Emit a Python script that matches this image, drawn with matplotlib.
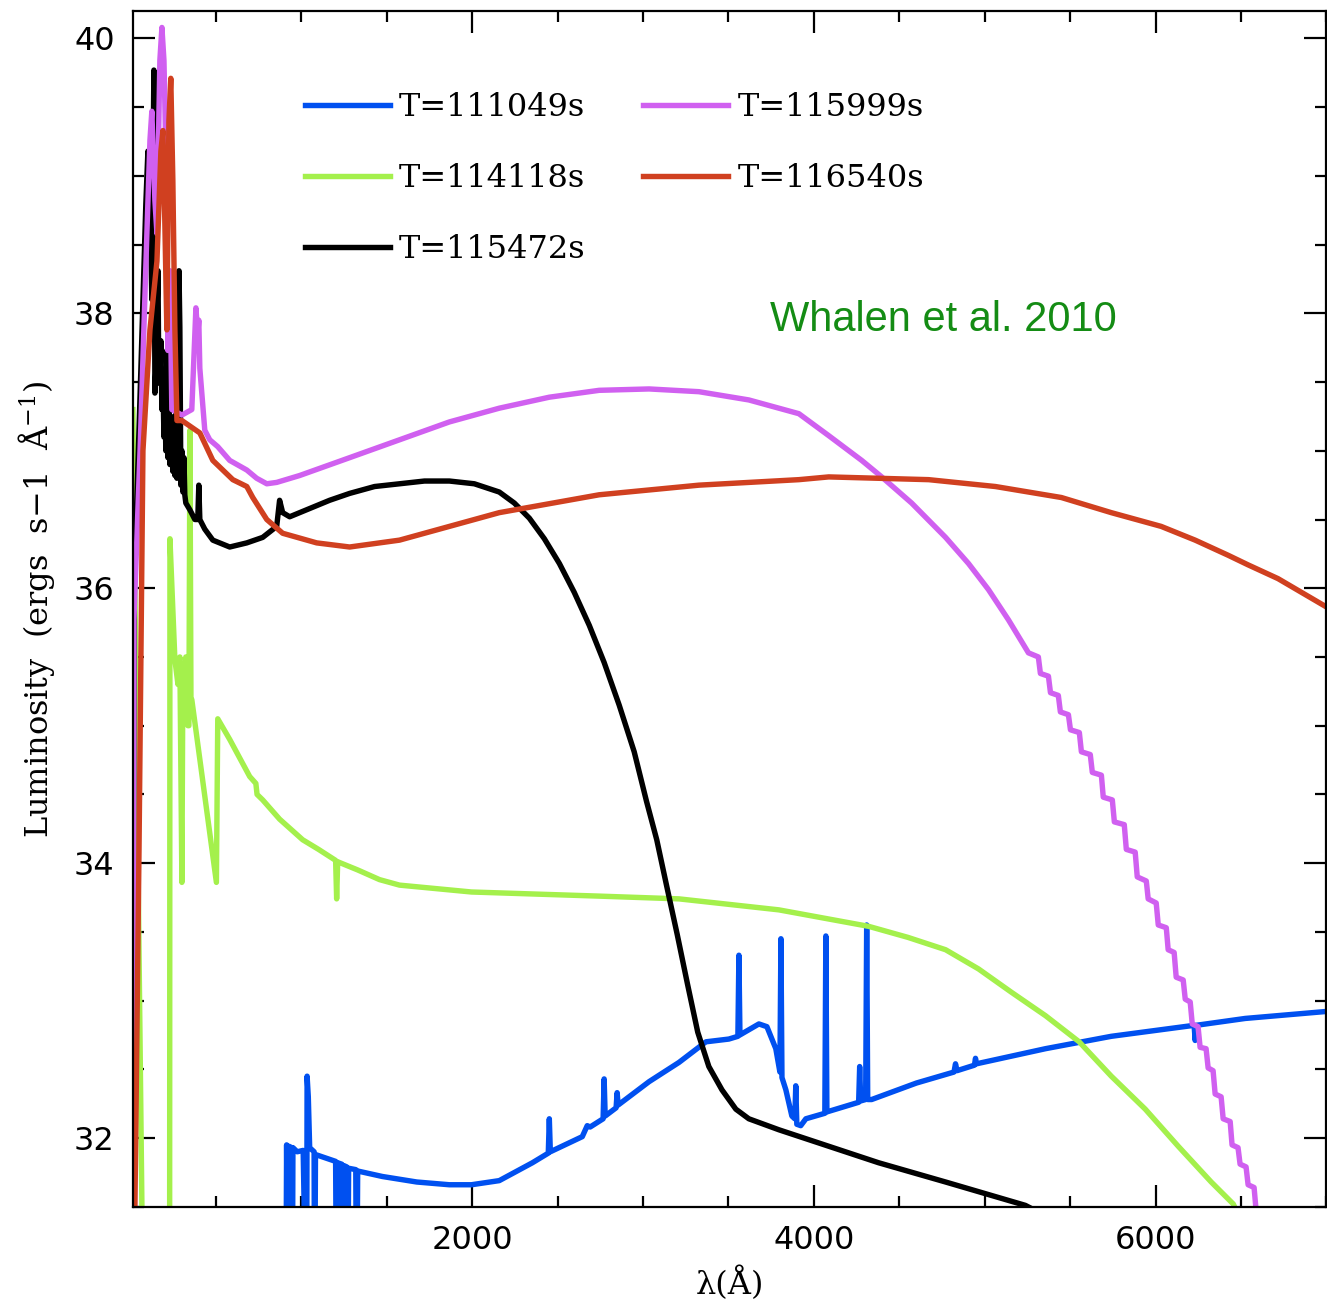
import matplotlib
matplotlib.use("Agg")
import matplotlib.pyplot as plt
from matplotlib.ticker import MultipleLocator

# (wavelength in Angstrom, log luminosity)
spec_111049 = [
    (908, 30.5), (913, 31.95), (920, 30.5), (927, 31.94), (943, 31.93), (946, 30.5), (950, 31.93),
    (975, 31.90), (1010, 31.91), (1030, 30.5), (1033, 32.45), (1040, 32.3), (1048, 31.93),
    (1074, 31.9), (1077, 30.5), (1082, 31.88), (1200, 31.83), (1206, 30.5), (1212, 31.82),
    (1235, 31.81), (1241, 30.5), (1247, 31.8), (1265, 31.79), (1270, 30.5), (1276, 31.78),
    (1318, 31.77), (1323, 30.5), (1329, 31.76), (1474, 31.72), (1675, 31.68), (1866, 31.66),
    (1995, 31.66), (2158, 31.69), (2352, 31.82), (2445, 31.89), (2451, 32.14), (2457, 31.9),
    (2644, 32.01), (2673, 32.09), (2690, 32.08), (2766, 32.14), (2772, 32.43), (2778, 32.16),
    (2842, 32.22), (2848, 32.33), (2854, 32.24), (3035, 32.41), (3210, 32.55), (3368, 32.70),
    (3502, 32.72), (3555, 32.74), (3561, 33.33), (3567, 32.75), (3678, 32.83), (3725, 32.81),
    (3777, 32.65), (3801, 32.48), (3807, 33.45), (3813, 32.44), (3836, 32.35), (3871, 32.16),
    (3888, 32.14), (3894, 32.38), (3900, 32.10), (3923, 32.09), (3953, 32.14), (4064, 32.18),
    (4070, 33.47), (4076, 32.19), (4262, 32.26), (4268, 32.52), (4274, 32.27), (4303, 32.28),
    (4309, 33.55), (4315, 32.28), (4338, 32.28), (4600, 32.40), (4820, 32.48), (4829, 32.54),
    (4838, 32.49), (4940, 32.53), (4946, 32.58), (4952, 32.54), (5356, 32.65), (5741, 32.74),
    (6226, 32.82), (6232, 32.71), (6238, 32.82), (6525, 32.87), (6992, 32.92),
]

spec_114118 = [
    (13, 37.3), (66, 31.5), (70, 30.5), (228, 30.5), (230, 36.36), (259, 35.48), (277, 35.3),
    (288, 35.5), (300, 33.86), (306, 35.45), (312, 35.2), (323, 35.5), (335, 35.0), (341, 35.0),
    (347, 37.15), (353, 35.2), (358, 35.19), (502, 33.86), (510, 35.05), (580, 34.9),
    (697, 34.63), (733, 34.58), (740, 34.5), (773, 34.46), (872, 34.32), (1007, 34.17),
    (1100, 34.10), (1200, 34.02), (1206, 33.74), (1212, 34.01), (1330, 33.95), (1457, 33.88),
    (1574, 33.84), (1995, 33.79), (2743, 33.76), (3210, 33.74), (3795, 33.66), (4321, 33.54),
    (4550, 33.46), (4771, 33.37), (4964, 33.23), (5157, 33.06), (5356, 32.89), (5553, 32.70),
    (5741, 32.45), (5940, 32.21), (6133, 31.94), (6326, 31.68), (6455, 31.52), (6500, 31.4),
]

spec_115472 = [
    (13, 31.5), (20, 36.0), (60, 37.6), (89, 38.8), (101, 39.18), (107, 38.6), (113, 38.9),
    (124, 38.1), (136, 39.77), (142, 37.42), (148, 37.6), (154, 38.0), (160, 38.31), (165, 37.5),
    (171, 37.49), (177, 37.8), (183, 37.3), (189, 37.5), (195, 37.1), (200, 37.4), (206, 37.0),
    (212, 37.73), (218, 36.95), (224, 37.3), (230, 36.9), (241, 37.2), (247, 36.85), (253, 37.25),
    (259, 36.82), (265, 37.3), (271, 36.8), (283, 38.31), (288, 37.9), (294, 36.75), (300, 37.0),
    (306, 36.7), (312, 36.95), (317, 36.68), (323, 36.62), (347, 36.57), (376, 36.5), (393, 36.5),
    (399, 36.75), (405, 36.5), (434, 36.43), (481, 36.35), (580, 36.30), (680, 36.33),
    (773, 36.37), (855, 36.45), (872, 36.64), (890, 36.55), (931, 36.52), (1048, 36.58),
    (1165, 36.64), (1282, 36.69), (1428, 36.74), (1574, 36.76), (1720, 36.78), (1866, 36.78),
    (2012, 36.76), (2158, 36.70), (2246, 36.62), (2334, 36.51), (2422, 36.36), (2510, 36.18),
    (2597, 35.97), (2685, 35.73), (2772, 35.46), (2860, 35.15), (2948, 34.81), (3020, 34.45),
    (3080, 34.17), (3137, 33.84), (3200, 33.48), (3260, 33.12), (3320, 32.77), (3385, 32.52),
    (3462, 32.35), (3543, 32.21), (3619, 32.14), (3795, 32.06), (4087, 31.94), (4379, 31.82),
    (4771, 31.68), (5238, 31.51), (5300, 31.47),
]

spec_115999 = [
    (14, 31.5), (19, 35.77), (55, 37.0), (95, 38.58), (113, 39.26), (124, 39.47), (142, 38.82),
    (154, 38.58), (171, 39.84), (183, 40.08), (195, 39.84), (206, 39.18), (218, 37.73),
    (230, 38.31), (241, 37.3), (300, 37.26), (358, 37.3), (382, 38.04), (393, 37.85),
    (399, 37.95), (405, 37.6), (434, 37.15), (463, 37.08), (510, 37.03), (580, 36.93),
    (680, 36.86), (738, 36.80), (797, 36.76), (855, 36.77), (989, 36.82), (1282, 36.95),
    (1574, 37.08), (1866, 37.21), (2158, 37.31), (2451, 37.39), (2743, 37.44), (3035, 37.45),
    (3327, 37.43), (3619, 37.37), (3912, 37.27), (4087, 37.11), (4280, 36.93), (4397, 36.81),
    (4572, 36.62), (4771, 36.37), (4905, 36.18), (5022, 35.99), (5139, 35.77), (5256, 35.53),
    # stair-stepped tail
    (5314, 35.50), (5326, 35.38), (5373, 35.36), (5385, 35.24), (5431, 35.22), (5443, 35.10),
    (5490, 35.08), (5502, 34.97), (5554, 34.95), (5566, 34.81), (5618, 34.79), (5630, 34.66),
    (5683, 34.64), (5694, 34.48), (5747, 34.46), (5759, 34.30), (5817, 34.28), (5829, 34.10),
    (5881, 34.08), (5893, 33.90), (5946, 33.87), (5957, 33.74), (6004, 33.71), (6016, 33.55),
    (6063, 33.53), (6074, 33.37), (6109, 33.35), (6121, 33.17), (6162, 33.15), (6174, 33.01),
    (6203, 32.99), (6215, 32.83), (6249, 32.81), (6261, 32.66), (6296, 32.65), (6308, 32.51),
    (6337, 32.49), (6349, 32.32), (6384, 32.30), (6396, 32.14), (6437, 32.12), (6448, 31.95),
    (6483, 31.93), (6495, 31.81), (6530, 31.79), (6542, 31.66), (6577, 31.64), (6589, 31.47),
]

spec_116540 = [
    (25, 31.5), (49, 34.1), (72, 37.0), (113, 37.88), (154, 38.38), (177, 39.18), (189, 39.33),
    (200, 38.67), (212, 37.88), (224, 39.40), (235, 39.71), (247, 38.97), (259, 37.88),
    (271, 37.22), (300, 37.22), (405, 37.13), (481, 36.93), (598, 36.79), (680, 36.74),
    (715, 36.66), (797, 36.50), (890, 36.40), (1089, 36.33), (1282, 36.30), (1574, 36.35),
    (1866, 36.45), (2158, 36.55), (2743, 36.68), (3327, 36.75), (3912, 36.79), (4087, 36.81),
    (4672, 36.79), (5063, 36.74), (5449, 36.66), (5741, 36.55), (6033, 36.45), (6232, 36.35),
    (6425, 36.24), (6542, 36.17), (6717, 36.07), (6992, 35.87),
]

labels = ["T=111049s", "T=114118s", "T=115472s", "T=115999s", "T=116540s"]
colors = ["#0050f0", "#a4f04c", "black", "#d060f0", "#d04020"]
spectra = [spec_111049, spec_114118, spec_115472, spec_115999, spec_116540]

plt.rcParams["mathtext.fontset"] = "dejavuserif"

fig = plt.figure(figsize=(13.27, 13.06), dpi=100)
ax = fig.add_axes([0.1, 0.076, 0.8995, 0.9156])

for spec, lab, col in zip(spectra, labels, colors):
    wl, lum = zip(*spec)
    ax.plot(wl, lum, color=col, lw=3.9, label=lab, solid_joinstyle="round")

ax.set_xlim(12, 7000)
ax.set_ylim(31.5, 40.2)
ax.xaxis.set_major_locator(MultipleLocator(2000))
ax.xaxis.set_minor_locator(MultipleLocator(500))
ax.yaxis.set_major_locator(MultipleLocator(2))
ax.yaxis.set_minor_locator(MultipleLocator(0.5))
ax.tick_params(which="both", direction="in", top=True, right=True, width=1.6,
               labelsize=23, pad=13)
ax.tick_params(which="major", length=16)
ax.tick_params(which="minor", length=8)
for lab in ax.get_xticklabels() + ax.get_yticklabels():
    lab.set_family("DejaVu Sans")
for sp in ax.spines.values():
    sp.set_linewidth(1.6)

ax.set_xlabel("λ(Å)", family="DejaVu Serif", fontsize=23, labelpad=8)
ax.set_ylabel(r"Luminosity  (ergs  s−1  Å$^{-1}$)", family="DejaVu Serif", fontsize=23,
              labelpad=12)

ax.text(4760, 37.95, "Whalen et al. 2010", color="#148c14", family="Liberation Sans",
        fontsize=30, ha="center", va="center")

leg = ax.legend(loc="upper left", bbox_to_anchor=(0.12, 0.956), ncol=2, frameon=False,
                prop={"family": "DejaVu Serif", "size": 23}, handlelength=2.66,
                handletextpad=0.3, labelspacing=1.25, columnspacing=1.8)

fig.savefig("out.png", dpi=100)
